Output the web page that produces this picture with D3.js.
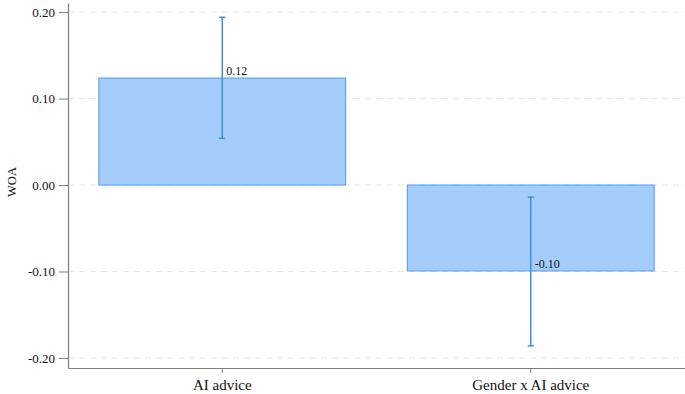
<!DOCTYPE html>
<html>
<head>
<meta charset="utf-8">
<script src="https://cdn.jsdelivr.net/npm/d3@7"></script>
<style>
  body { margin: 0; background: #fff; }
  svg text { font-family: "Liberation Serif", "Times New Roman", "DejaVu Serif", serif; }
</style>
</head>
<body>
<div id="chart"></div>
<script>
// Data
const categories = ["AI advice", "Gender x AI advice"];
const estimates = [0.1237, -0.0994];
const ciLow = [0.054, -0.186];
const ciHigh = [0.194, -0.014];
const valueLabels = ["0.12", "-0.10"];
const yTicks = [0.2, 0.1, 0, -0.1, -0.2];

const W = 685, H = 394;
const margin = {top: 3, right: 0, bottom: 26, left: 68};
const serif = "Liberation Serif, Times New Roman, DejaVu Serif, serif";

const svg = d3.select("#chart").append("svg")
    .attr("width", W)
    .attr("height", H)
    .attr("font-family", serif);

const x = d3.scaleBand()
    .domain(categories)
    .range([margin.left, W - margin.right])
    .paddingInner(0.2)
    .paddingOuter(0.1);

const y = d3.scaleLinear()
    .domain([-0.2116, 0.2105])
    .range([H - margin.bottom, margin.top]);

// Gridlines (dashed)
svg.append("g")
    .selectAll("line")
    .data(yTicks)
    .enter().append("line")
    .attr("x1", margin.left)
    .attr("x2", W - margin.right)
    .attr("y1", d => y(d))
    .attr("y2", d => y(d))
    .attr("stroke", "#e6e6e6")
    .attr("stroke-width", 1)
    .attr("stroke-dasharray", "6,5");

// Bars
const data = categories.map((c, i) => ({
    cat: c, est: estimates[i], lo: ciLow[i], hi: ciHigh[i], lab: valueLabels[i]
}));

svg.selectAll("rect.bar")
    .data(data)
    .enter().append("rect")
    .attr("class", "bar")
    .attr("x", d => x(d.cat))
    .attr("y", d => y(Math.max(0, d.est)))
    .attr("width", x.bandwidth())
    .attr("height", d => Math.abs(y(d.est) - y(0)))
    .attr("fill", "#a5cdfc")
    .attr("stroke", "#4c9cf2")
    .attr("stroke-width", 1);

// Error bars
const errColor = "#3d8fea";
const cx = d => x(d.cat) + x.bandwidth() / 2;

const eb = svg.append("g");
eb.selectAll("line.stem")
    .data(data)
    .enter().append("line")
    .attr("x1", cx).attr("x2", cx)
    .attr("y1", d => y(d.lo)).attr("y2", d => y(d.hi))
    .attr("stroke", errColor)
    .attr("stroke-width", 1.5);

["lo", "hi"].forEach(k => {
    eb.selectAll("line.cap-" + k)
        .data(data)
        .enter().append("line")
        .attr("x1", d => cx(d) - 3).attr("x2", d => cx(d) + 3)
        .attr("y1", d => y(d[k])).attr("y2", d => y(d[k]))
        .attr("stroke", errColor)
        .attr("stroke-width", 1.5);
});

// Value labels
svg.selectAll("text.val")
    .data(data)
    .enter().append("text")
    .attr("class", "val")
    .attr("x", d => cx(d) + 4)
    .attr("y", d => y(d.est) - 3)
    .attr("font-size", 12)
    .attr("fill", "#111")
    .text(d => d.lab);

// Y axis
const yAxis = svg.append("g")
    .attr("transform", `translate(${margin.left},0)`)
    .call(d3.axisLeft(y).tickValues(yTicks).tickFormat(d => d.toFixed(2)).tickSize(9).tickSizeOuter(0));

// X axis
const xAxis = svg.append("g")
    .attr("transform", `translate(0,${H - margin.bottom})`)
    .call(d3.axisBottom(x).tickSize(5).tickSizeOuter(0));

[yAxis, xAxis].forEach(g => {
    g.attr("font-family", serif);
    g.select(".domain").attr("stroke", "#7f7f7f").attr("stroke-width", 1.2);
    g.selectAll(".tick line").attr("stroke", "#7f7f7f");
    g.selectAll(".tick text").attr("fill", "#111");
});
yAxis.attr("font-size", 13);
xAxis.attr("font-size", 15);
xAxis.selectAll(".tick text").attr("y", 11).attr("dy", "0.71em");
yAxis.selectAll(".tick text").attr("x", -13);

// Y axis title
svg.append("text")
    .attr("transform", `translate(16,${y(0) - 3}) rotate(-90)`)
    .attr("text-anchor", "middle")
    .attr("font-size", 12.5)
    .attr("fill", "#111")
    .text("WOA");
</script>
</body>
</html>
